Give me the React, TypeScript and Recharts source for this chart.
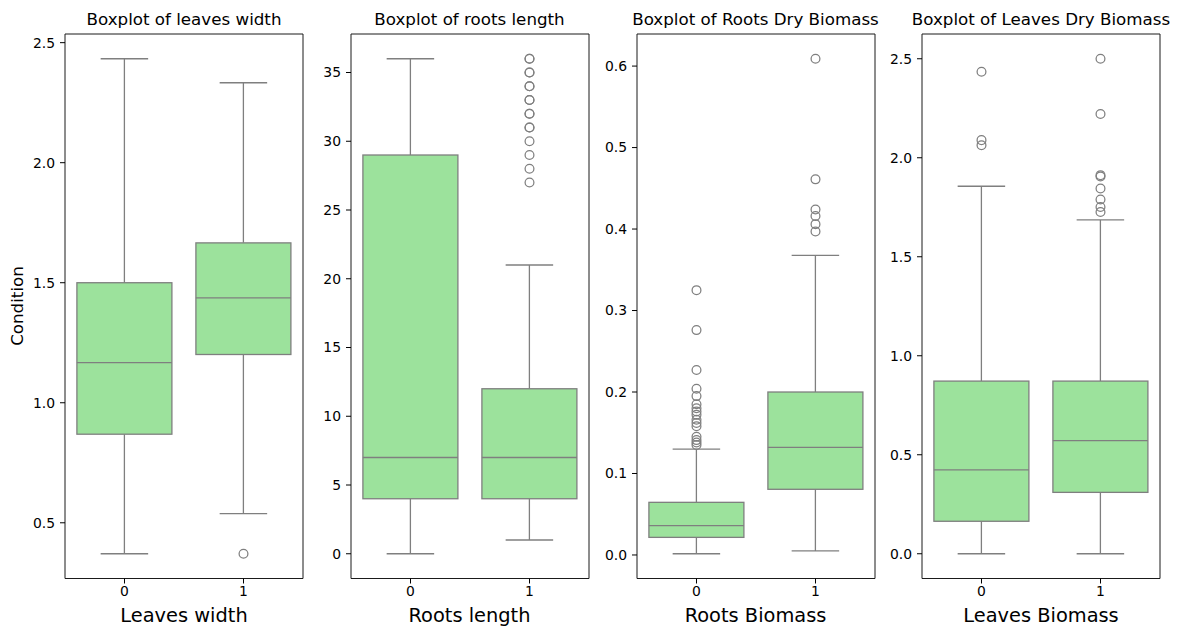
import React from 'react';
import { ComposedChart, Bar, Scatter, XAxis, YAxis, ReferenceArea } from 'recharts';

const categories = ['0', '1'];

// Panel 1: leaves width
const leavesWidthLower = [0.371, 0.538];
const leavesWidthQ1 = [0.869, 1.201];
const leavesWidthMedian = [1.167, 1.437];
const leavesWidthQ3 = [1.5, 1.666];
const leavesWidthUpper = [2.433, 2.333];
const leavesWidthOutliers0: number[] = [];
const leavesWidthOutliers1 = [0.371];
const leavesWidthTicks = [0.5, 1.0, 1.5, 2.0, 2.5];

// Panel 2: roots length
const rootsLengthLower = [0, 1];
const rootsLengthQ1 = [4, 4];
const rootsLengthMedian = [7, 7];
const rootsLengthQ3 = [29, 12];
const rootsLengthUpper = [36, 21];
const rootsLengthOutliers0: number[] = [];
const rootsLengthOutliers1 = [27, 28, 29, 30, 31, 31, 32, 32, 33, 33, 34, 34, 35, 35, 36, 36];
const rootsLengthTicks = [0, 5, 10, 15, 20, 25, 30, 35];

// Panel 3: roots dry biomass
const rootsBiomassLower = [0.0015, 0.005];
const rootsBiomassQ1 = [0.0216, 0.0806];
const rootsBiomassMedian = [0.036, 0.132];
const rootsBiomassQ3 = [0.0646, 0.2];
const rootsBiomassUpper = [0.13, 0.3676];
const rootsBiomassOutliers0 = [0.325, 0.276, 0.227, 0.204, 0.195, 0.185, 0.18, 0.176, 0.172, 0.166, 0.162, 0.158, 0.145, 0.141, 0.138, 0.135];
const rootsBiomassOutliers1 = [0.609, 0.461, 0.424, 0.416, 0.406, 0.397];
const rootsBiomassTicks = [0.0, 0.1, 0.2, 0.3, 0.4, 0.5, 0.6];

// Panel 4: leaves dry biomass
const leavesBiomassLower = [0, 0];
const leavesBiomassQ1 = [0.164, 0.31];
const leavesBiomassMedian = [0.4235, 0.571];
const leavesBiomassQ3 = [0.872, 0.872];
const leavesBiomassUpper = [1.856, 1.686];
const leavesBiomassOutliers0 = [2.434, 2.089, 2.063];
const leavesBiomassOutliers1 = [2.5, 2.221, 1.912, 1.905, 1.845, 1.789, 1.751, 1.726];
const leavesBiomassTicks = [0.0, 0.5, 1.0, 1.5, 2.0, 2.5];

const titles = ['Boxplot of leaves width', 'Boxplot of roots length', 'Boxplot of Roots Dry Biomass', 'Boxplot of Leaves Dry Biomass'];
const xLabels = ['Leaves width', 'Roots length', 'Roots Biomass', 'Leaves Biomass'];
const yLabel = 'Condition';

const FONT = '"DejaVu Sans", sans-serif';
const BOX_FILL = '#9ce29c';
const LINE = '#7f7f7f';
const FRAME = '#1a1a1a';

type Panel = {
  lower: number[]; q1: number[]; median: number[]; q3: number[]; upper: number[];
  outliers: number[][]; ticks: number[]; fmt: (v: number) => string;
};

const panels: Panel[] = [
  { lower: leavesWidthLower, q1: leavesWidthQ1, median: leavesWidthMedian, q3: leavesWidthQ3, upper: leavesWidthUpper, outliers: [leavesWidthOutliers0, leavesWidthOutliers1], ticks: leavesWidthTicks, fmt: (v) => v.toFixed(1) },
  { lower: rootsLengthLower, q1: rootsLengthQ1, median: rootsLengthMedian, q3: rootsLengthQ3, upper: rootsLengthUpper, outliers: [rootsLengthOutliers0, rootsLengthOutliers1], ticks: rootsLengthTicks, fmt: (v) => String(v) },
  { lower: rootsBiomassLower, q1: rootsBiomassQ1, median: rootsBiomassMedian, q3: rootsBiomassQ3, upper: rootsBiomassUpper, outliers: [rootsBiomassOutliers0, rootsBiomassOutliers1], ticks: rootsBiomassTicks, fmt: (v) => v.toFixed(1) },
  { lower: leavesBiomassLower, q1: leavesBiomassQ1, median: leavesBiomassMedian, q3: leavesBiomassQ3, upper: leavesBiomassUpper, outliers: [leavesBiomassOutliers0, leavesBiomassOutliers1], ticks: leavesBiomassTicks, fmt: (v) => v.toFixed(1) },
];

const PLOT_LEFTS = [65, 350.5, 636.5, 922];
const PLOT_TOP = 34;
const PLOT_H = 544.5;
const PLOT_W = 238;
const Y_AXIS_W = 50;
const M_LEFT = 10;
const M_RIGHT = 6;

const BoxShape = (props: any) => {
  const { x, y, width, height, payload } = props;
  if (!payload || payload.lo == null || x == null || isNaN(y)) return <g />;
  const top = Math.min(y, y + height);
  const bottom = Math.max(y, y + height);
  const { lo, hi, q1, med, q3 } = payload;
  const py = (v: number) => (hi === lo ? top : top + ((bottom - top) * (hi - v)) / (hi - lo));
  const cx = x + width / 2;
  const cap = width / 4;
  const sw = 1.3;
  return (
    <g>
      <line x1={cx} x2={cx} y1={py(hi)} y2={py(q3)} stroke={LINE} strokeWidth={sw} />
      <line x1={cx} x2={cx} y1={py(q1)} y2={py(lo)} stroke={LINE} strokeWidth={sw} />
      <line x1={cx - cap} x2={cx + cap} y1={py(hi)} y2={py(hi)} stroke={LINE} strokeWidth={sw} />
      <line x1={cx - cap} x2={cx + cap} y1={py(lo)} y2={py(lo)} stroke={LINE} strokeWidth={sw} />
      <rect x={x} y={py(q3)} width={width} height={py(q1) - py(q3)} fill={BOX_FILL} stroke={LINE} strokeWidth={sw} />
      <line x1={x} x2={x + width} y1={py(med)} y2={py(med)} stroke={LINE} strokeWidth={sw} />
    </g>
  );
};

const OutlierShape = (props: any) => {
  const { cx, cy } = props;
  if (cx == null || cy == null || isNaN(cx) || isNaN(cy)) return <g />;
  return <circle cx={cx} cy={cy} r={4.4} fill="none" stroke={LINE} strokeWidth={1.25} />;
};

function PanelChart({ p, idx }: { p: Panel; idx: number }) {
  const rows: any[] = [
    ...categories.map((c, i) => ({
      cat: c,
      range: [p.lower[i], p.upper[i]],
      lo: p.lower[i], q1: p.q1[i], med: p.median[i], q3: p.q3[i], hi: p.upper[i],
    })),
    ...p.outliers.flatMap((arr, i) => arr.map((v) => ({ cat: categories[i], v }))),
  ];
  const all = [...p.lower, ...p.upper, ...p.outliers.flat()];
  const dmin = Math.min(...all);
  const dmax = Math.max(...all);
  const pad = (dmax - dmin) * 0.05;
  const domain = [dmin - pad, dmax + pad];
  const chartLeft = PLOT_LEFTS[idx] - Y_AXIS_W - M_LEFT;
  const chartW = M_LEFT + Y_AXIS_W + PLOT_W + M_RIGHT;
  const xAxisH = 628 - PLOT_TOP - PLOT_H;
  const tickStyle = { fontSize: 13.9, fill: '#000', fontFamily: FONT };
  return (
    <div style={{ position: 'absolute', left: chartLeft, top: 0 }}>
      <ComposedChart
        width={chartW}
        height={628}
        data={rows}
        margin={{ top: PLOT_TOP, right: M_RIGHT, bottom: 0, left: M_LEFT }}
        barCategoryGap="10%"
      >
        <XAxis
          dataKey="cat"
          type="category"
          allowDuplicatedCategory={false}
          height={xAxisH}
          tickSize={5}
          tickMargin={3}
          axisLine={false}
          tickLine={{ stroke: '#000', strokeWidth: 1 }}
          tick={tickStyle}
          interval={0}
        />
        <YAxis
          type="number"
          domain={domain}
          ticks={p.ticks}
          allowDataOverflow
          width={Y_AXIS_W}
          tickSize={5}
          tickMargin={5}
          axisLine={false}
          tickLine={{ stroke: '#000', strokeWidth: 1 }}
          tick={tickStyle}
          tickFormatter={p.fmt}
          interval={0}
        />
        <Bar dataKey="range" isAnimationActive={false} shape={BoxShape} />
        <Scatter dataKey="v" isAnimationActive={false} shape={OutlierShape} />
        <ReferenceArea y1={domain[0]} y2={domain[1]} fill="none" fillOpacity={0} stroke={FRAME} strokeWidth={1} ifOverflow="visible" />
      </ComposedChart>
    </div>
  );
}

export default function App() {
  return (
    <div style={{ position: 'absolute', left: 0, top: 0, width: 1177, height: 628, overflow: 'hidden', background: '#fff', fontFamily: FONT }}>
      {panels.map((p, i) => (
        <PanelChart key={i} p={p} idx={i} />
      ))}
      {titles.map((t, i) => (
        <div
          key={'t' + i}
          style={{
            position: 'absolute', left: PLOT_LEFTS[i] + PLOT_W / 2 - 200, top: 9, width: 400,
            textAlign: 'center', fontSize: 16.7, lineHeight: '20px', color: '#000', whiteSpace: 'nowrap',
          }}
        >
          {t}
        </div>
      ))}
      {xLabels.map((t, i) => (
        <div
          key={'x' + i}
          style={{
            position: 'absolute', left: PLOT_LEFTS[i] + PLOT_W / 2 - 200, top: 604, width: 400,
            textAlign: 'center', fontSize: 19.4, lineHeight: '24px', color: '#000', whiteSpace: 'nowrap',
          }}
        >
          {t}
        </div>
      ))}
      <div
        style={{
          position: 'absolute', left: 17 - 100, top: 306 - 10, width: 200, height: 20,
          textAlign: 'center', fontSize: 16.7, lineHeight: '20px', color: '#000',
          transform: 'rotate(-90deg)', whiteSpace: 'nowrap',
        }}
      >
        {yLabel}
      </div>
    </div>
  );
}
